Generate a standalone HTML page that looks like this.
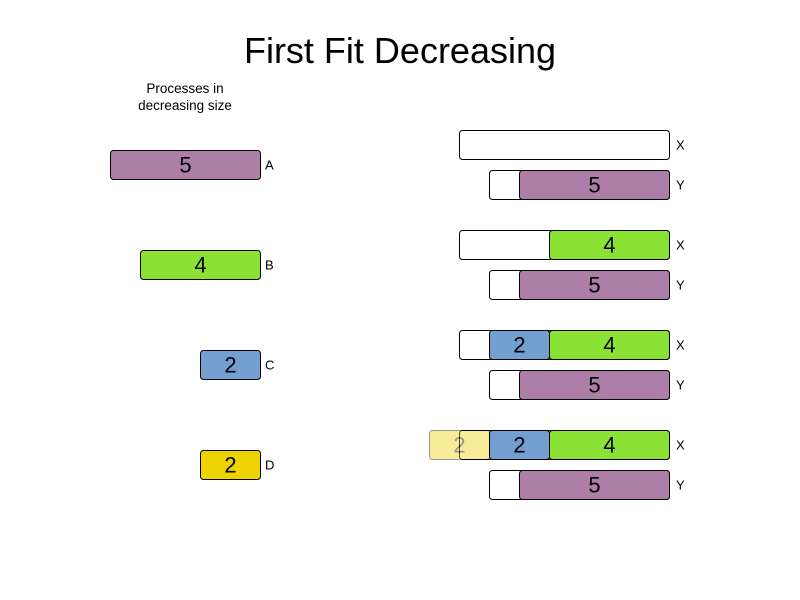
<!DOCTYPE html>
<html><head><meta charset="utf-8"><style>
body{margin:0;background:#fff}
svg{display:block;font-family:"Liberation Sans",sans-serif}
</style></head><body>
<svg id="chart" width="800" height="600" viewBox="0 0 800 600">
<rect width="800" height="600" fill="#fff"/>
<text x="400" y="63" font-size="36" text-anchor="middle" fill="#000">First Fit Decreasing</text>
<text x="185" y="93" font-size="13.5" text-anchor="middle">Processes in</text>
<text x="185" y="110" font-size="13.5" text-anchor="middle">decreasing size</text>
</svg>
<script>
const procNames = ["A","B","C","D"];
const procSizes = [5,4,2,2];
const procColors = ["#ad7fa8","#8ae234","#729fcf","#edd400"];
const binNames = ["X","Y"];
const binCapacities = [7,6];
// per step: list of [binIndex, processIndex] placed so far
const steps = [[[1,0]],[[1,0],[0,1]],[[1,0],[0,1],[0,2]],[[1,0],[0,1],[0,2]]];
const pendingStep = [null,null,null,3]; // process being tried at step (doesn't fit)

const svg = document.getElementById('chart');
const NS = 'http://www.w3.org/2000/svg';
const U = 30, H = 29, RIGHT_L = 260, RIGHT_R = 669.5;
function mk(tag, attrs){const e=document.createElementNS(NS,tag);for(const k in attrs)e.setAttribute(k,attrs[k]);svg.appendChild(e);return e;}
function box(xr, size, y, fill, label, name, opacity){
  const g = document.createElementNS(NS,'g'); svg.appendChild(g);
  
  
  if(opacity!==undefined) g.setAttribute('opacity', opacity);
  const r=document.createElementNS(NS,'rect');
  r.setAttribute('x', xr-size*U); r.setAttribute('y', y); r.setAttribute('width', size*U); r.setAttribute('height', H);
  r.setAttribute('rx',3); r.setAttribute('fill',fill); r.setAttribute('stroke','#000'); r.setAttribute('stroke-width',1);
  g.appendChild(r);
  if(label!==null){const t=document.createElementNS(NS,'text');
  t.setAttribute('x', xr-size*U/2); t.setAttribute('y', y+22); t.setAttribute('font-size',22); t.setAttribute('text-anchor','middle');
  t.textContent=label; g.appendChild(t);}
  return g;
}
function lbl(x,y,s,name){const t=mk('text',{x:x,y:y,'font-size':13});t.textContent=s;
  
  }
// left column
procNames.forEach((n,i)=>{
  const y = 150.5 + i*100;
  box(RIGHT_L+0.5, procSizes[i], y, procColors[i], String(procSizes[i]), 'process-'+n.toLowerCase());
  lbl(265, y+19, n, 'process-label-'+n.toLowerCase());
});
// right column
steps.forEach((placed, s)=>{
  const base = 130.5 + s*100;
  binNames.forEach((b,bi)=>{
    const y = base + bi*40;
    box(RIGHT_R, binCapacities[bi], y, '#fff', null, 'bin-'+b.toLowerCase()+'-step'+(s+1));
    let xr = RIGHT_R;
    placed.filter(p=>p[0]===bi).forEach(p=>{
      const pi=p[1];
      box(xr, procSizes[pi], y, procColors[pi], String(procSizes[pi]), 'placed-'+procNames[pi].toLowerCase()+'-in-'+b.toLowerCase()+'-step'+(s+1));
      xr -= procSizes[pi]*U;
    });
    if(bi===0 && pendingStep[s]!==null){
      const pi=pendingStep[s];
      box(xr, procSizes[pi], y, procColors[pi], String(procSizes[pi]), 'overflow-'+procNames[pi].toLowerCase()+'-step'+(s+1), 0.4);
    }
    lbl(676, y+19, b, 'bin-label-'+b.toLowerCase()+'-step'+(s+1));
  });
});
</script>
</body></html>
